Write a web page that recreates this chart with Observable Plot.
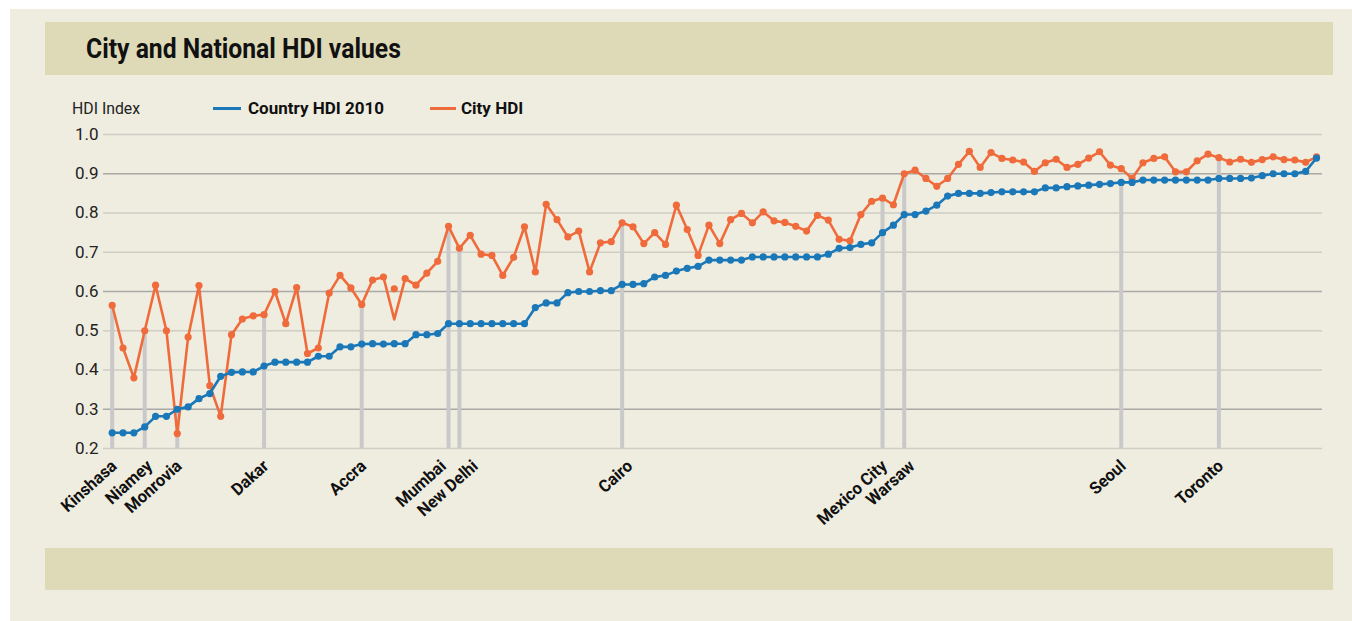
<!DOCTYPE html>
<html>
<head>
<meta charset="utf-8">
<script src="https://cdn.jsdelivr.net/npm/d3@7"></script>
<script src="https://cdn.jsdelivr.net/npm/@observablehq/plot@0.6"></script>
<style>
  html, body { margin: 0; padding: 0; background: #ffffff; }
  body { width: 1352px; height: 621px; position: relative; overflow: hidden;
         font-family: Roboto, "DejaVu Sans Condensed", sans-serif; }
  #panel { position: absolute; left: 10px; top: 9px; width: 1342px; height: 612px; background: #efede0; }
  .band { position: absolute; left: 45px; width: 1288px; background: #dedab8; }
  #titleband { top: 22px; height: 53px; }
  #bottomband { top: 548px; height: 42px; }
  #title { position: absolute; left: 86px; top: 33px; font-weight: bold; font-size: 27px; color: #111;
           transform: scaleX(0.915); transform-origin: 0 0; white-space: nowrap; }
  #chart { position: absolute; left: 0; top: 0; }
  .leg { position: absolute; top: 98px; font-size: 17px; color: #222; white-space: nowrap;
         transform-origin: 0 0; }
  .legb { font-weight: bold; color: #111; }
  .sw { position: absolute; height: 3px; top: 107px; }
</style>
</head>
<body>
<div id="panel"></div>
<div class="band" id="titleband"></div>
<div class="band" id="bottomband"></div>
<div id="title">City and National HDI values</div>
<div id="chart"></div>
<div class="leg" style="left:72px;transform:scaleX(0.93)">HDI Index</div>
<div class="sw" style="left:213px;width:28px;background:#1a78b8"></div>
<div class="leg legb" style="left:248px">Country HDI 2010</div>
<div class="sw" style="left:430px;width:26px;background:#f06b3b"></div>
<div class="leg legb" style="left:461px">City HDI</div>
<script>
// Country HDI 2010 (sorted, one value per city)
const countryHDI = [
  0.24,0.24,0.24,0.255,0.282,0.282,0.30,0.306,0.327,0.34,
  0.384,0.394,0.395,0.395,0.41,0.42,0.42,0.42,0.42,0.435,
  0.435,0.459,0.459,0.466,0.467,0.466,0.467,0.467,0.49,0.49,
  0.493,0.518,0.518,0.518,0.518,0.518,0.518,0.518,0.518,0.559,
  0.571,0.571,0.597,0.60,0.60,0.602,0.602,0.618,0.618,0.62,
  0.637,0.641,0.652,0.659,0.664,0.68,0.68,0.68,0.68,0.688,
  0.688,0.688,0.688,0.688,0.688,0.688,0.695,0.71,0.712,0.72,
  0.724,0.75,0.769,0.796,0.796,0.805,0.82,0.843,0.85,0.85,
  0.85,0.852,0.854,0.854,0.854,0.854,0.864,0.864,0.867,0.869,
  0.871,0.873,0.875,0.878,0.878,0.884,0.884,0.884,0.884,0.884,
  0.884,0.884,0.888,0.888,0.888,0.889,0.895,0.90,0.90,0.90,
  0.906,0.94
];
// City HDI
const cityHDI = [
  0.565,0.456,0.38,0.50,0.616,0.50,0.238,0.484,0.615,0.36,
  0.282,0.49,0.53,0.538,0.541,0.60,0.518,0.61,0.442,0.456,
  0.596,0.641,0.609,0.567,0.629,0.637,0.607,0.633,0.616,0.647,
  0.677,0.766,0.71,0.743,0.695,0.692,0.641,0.687,0.765,0.65,
  0.822,0.783,0.739,0.754,0.65,0.724,0.727,0.775,0.765,0.722,
  0.75,0.72,0.82,0.758,0.692,0.769,0.722,0.783,0.799,0.775,
  0.803,0.78,0.776,0.766,0.754,0.794,0.782,0.733,0.729,0.796,
  0.83,0.838,0.821,0.90,0.909,0.888,0.868,0.888,0.924,0.957,
  0.916,0.954,0.939,0.935,0.93,0.906,0.928,0.937,0.916,0.924,
  0.94,0.956,0.922,0.913,0.888,0.928,0.939,0.943,0.905,0.905,
  0.933,0.95,0.941,0.93,0.937,0.929,0.936,0.943,0.936,0.935,
  0.929,0.943
];
// The city line dips to this value at one position while the dot sits elsewhere
const cityLineOverride = [[27, 0.529]];
// Labelled cities: position (1-based), name, height of the grey guide
const labelNames = ["Kinshasa","Niamey","Monrovia","Dakar","Accra","Mumbai","New Delhi","Cairo","Mexico City","Warsaw","Seoul","Toronto"];
const labelPos   = [1, 4, 7, 15, 24, 32, 33, 48, 72, 74, 94, 103];
const labelTop   = [0.565, 0.50, 0.30, 0.541, 0.567, 0.766, 0.71, 0.775, 0.838, 0.90, 0.878, 0.941];
const yTicks = [0.2,0.3,0.4,0.5,0.6,0.7,0.8,0.9,1.0];
const darkTicks = [0.3,0.6,0.9];

const country = countryHDI.map((v,i) => ({i: i+1, v}));
const city = cityHDI.map((v,i) => ({i: i+1, v}));
const overrides = new Map(cityLineOverride);
const cityLine = cityHDI.map((v,i) => ({i: i+1, v: overrides.has(i+1) ? overrides.get(i+1) : v}));
const labels = labelNames.map((name,k) => ({name, i: labelPos[k], top: labelTop[k]}));

// label placement nudges (pixels), as hand-placed in the original
const nudge = {"Niamey": 3, "Mumbai": -7, "New Delhi": 14, "Cairo": 6, "Warsaw": 6};

const chart = Plot.plot({
  width: 1352,
  height: 548,
  marginLeft: 103,
  marginRight: 30,
  marginTop: 134,
  marginBottom: 100,
  style: {background: "transparent", fontFamily: "Roboto, 'DejaVu Sans Condensed', sans-serif"},
  x: {domain: [0.2, 112.55], axis: null},
  y: {domain: [0.2, 1.0], ticks: yTicks, tickFormat: d3.format(".1f"), tickSize: 0, tickPadding: 5, label: null},
  marks: [
    Plot.ruleY(yTicks.filter(t => !darkTicks.includes(t)), {stroke: "#cfcdc4", strokeWidth: 1.6}),
    Plot.ruleY(darkTicks, {stroke: "#a9a9a6", strokeWidth: 1.6}),
    Plot.ruleX(labels, {x: "i", y1: 0.2, y2: "top", stroke: "#c9c9c9", strokeWidth: 4}),
    Plot.line(cityLine, {x: "i", y: "v", stroke: "#f06b3b", strokeWidth: 2.6}),
    Plot.dot(city, {x: "i", y: "v", r: 3.6, fill: "#f06b3b"}),
    Plot.line(country, {x: "i", y: "v", stroke: "#1a78b8", strokeWidth: 2.6}),
    Plot.dot(country, {x: "i", y: "v", r: 3.6, fill: "#1a78b8"}),
    Plot.text(labels, {x: "i", y: () => 0.2, text: "name", rotate: -42, textAnchor: "end", lineAnchor: "middle",
      dx: 2, dy: 15, fontSize: 17, fontWeight: "bold", fill: "#111"})
  ]
});
// condense label glyphs along the text direction and apply nudges
const labelTexts = [...chart.querySelectorAll("g[aria-label='text'] text")];
labelTexts.forEach((t, k) => {
  const n = nudge[t.textContent] || 0;
  t.setAttribute("transform", `translate(${n},0) ` + t.getAttribute("transform") + " scale(0.97,1)");
});
chart.querySelectorAll("g[aria-label='y-axis tick label'] text").forEach(t => {
  t.style.fontSize = "17px"; t.setAttribute("fill", "#222");
});
document.getElementById("chart").appendChild(chart);
</script>
</body>
</html>
